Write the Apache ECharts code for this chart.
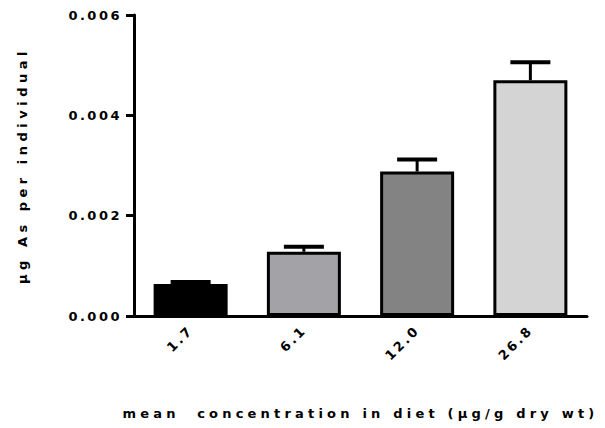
<!DOCTYPE html>
<html><head><meta charset="utf-8">
<script src="https://cdn.jsdelivr.net/npm/echarts@6/dist/echarts.min.js"></script>
<style>html,body{margin:0;padding:0;background:#fff}#c{width:605px;height:428px}</style>
</head><body><div id="c"></div>
<script>
const categories = ['1.7', '6.1', '12.0', '26.8'];
const means = [0.00064, 0.00128, 0.00288, 0.0047];
const errUpper = [0.00068, 0.00138, 0.00312, 0.00506];
const barColors = ['#000000', '#a3a2a7', '#838383', '#d4d4d4'];
const yTicks = [0, 0.002, 0.004, 0.006];
const xTitle = 'mean  concentration in diet (\u00b5g/g dry wt)';
const yTitle = '\u00b5g As per individual';

const el = document.getElementById('c');
const chart = echarts.init(el, null, {renderer: 'svg'});
const fontFam = '"DejaVu Sans", sans-serif';
chart.setOption({
  animation: false,
  grid: {left: 134, right: 18, top: 15, bottom: 112},
  xAxis: {
    type: 'category', data: categories,
    name: xTitle,
    nameLocation: 'middle', nameGap: 91,
    nameTextStyle: {fontFamily: fontFam, fontWeight: 'bold', fontSize: 13, color: '#000'},
    axisLine: {lineStyle: {color: '#000', width: 3}},
    axisTick: {alignWithLabel: true, length: 8, lineStyle: {color: '#000', width: 3}},
    axisLabel: {rotate: 45, margin: 12, fontFamily: fontFam, fontWeight: 'bold', fontSize: 13, color: '#000'}
  },
  yAxis: {
    type: 'value', min: yTicks[0], max: yTicks[yTicks.length - 1], interval: yTicks[1] - yTicks[0],
    name: yTitle,
    nameLocation: 'middle', nameGap: 105,
    nameTextStyle: {fontFamily: fontFam, fontWeight: 'bold', fontSize: 13, color: '#000'},
    axisLine: {show: true, lineStyle: {color: '#000', width: 3}},
    axisTick: {show: true, length: 8, lineStyle: {color: '#000', width: 3}},
    splitLine: {show: false},
    axisLabel: {margin: 12, fontFamily: fontFam, fontWeight: 'bold', fontSize: 13, color: '#000',
      formatter: v => v.toFixed(3)}
  },
  series: [{
    type: 'bar', barWidth: 74,
    data: means.map((v, i) => ({value: v, itemStyle: {color: barColors[i], borderColor: '#000', borderWidth: 3}})),
    z: 2
  }, {
    type: 'custom', z: 3,
    data: categories.map((c, i) => [i, means[i], errUpper[i]]),
    renderItem: (params, api) => {
      const base = api.coord([api.value(0), api.value(1)]);
      const top = api.coord([api.value(0), api.value(2)]);
      const hw = 20;
      return {type: 'group', children: [
        {type: 'line', shape: {x1: base[0], y1: base[1], x2: top[0], y2: top[1]}, style: {stroke: '#000', lineWidth: 3}},
        {type: 'line', shape: {x1: top[0] - hw, y1: top[1], x2: top[0] + hw, y2: top[1]}, style: {stroke: '#000', lineWidth: 4}}
      ]};
    }
  }]
});
function applySpacing() {
  el.querySelectorAll('text').forEach(t => {
    const s = t.textContent;
    let sp = '2.5px';
    if (s === xTitle) sp = '4.2px';
    else if (s === yTitle) sp = '4.5px';
    t.style.letterSpacing = sp;
  });
}
applySpacing();
chart.on('finished', applySpacing);
</script></body></html>
